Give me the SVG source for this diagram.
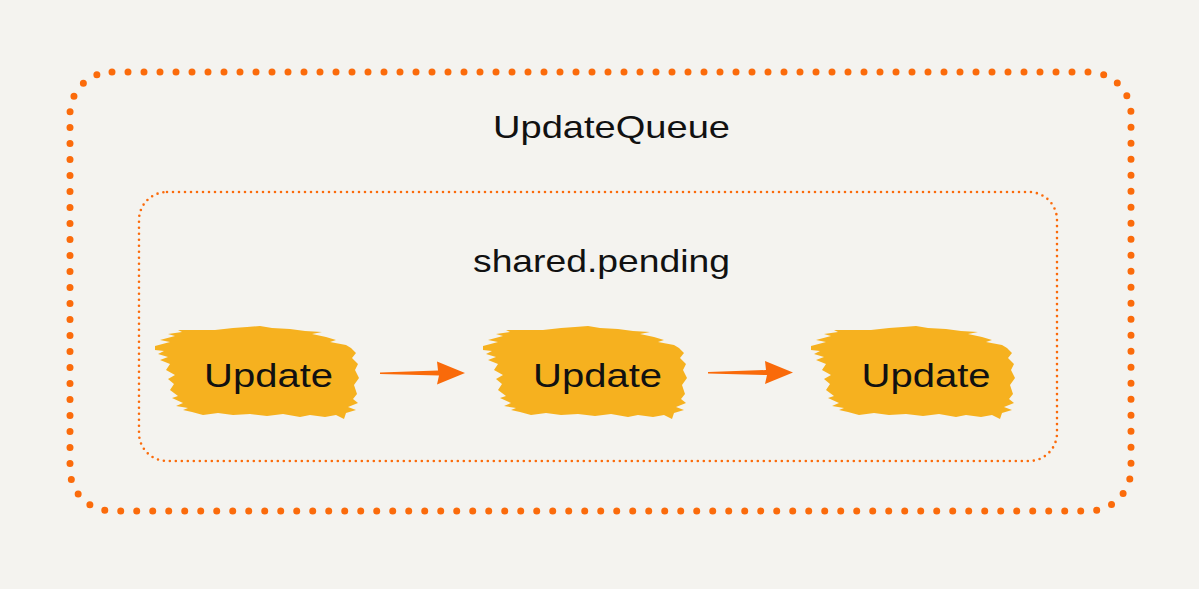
<svg xmlns="http://www.w3.org/2000/svg" width="1199" height="589" viewBox="0 0 1199 589">
  <style>
    .lbl { font-family: "Liberation Sans", Arial, sans-serif; fill: #111; text-anchor: middle; }
    .outer { fill: none; stroke: #fb6b0b; stroke-width: 7; stroke-linecap: round; stroke-dasharray: 0 16; }
    .inner { fill: none; stroke: #fb6b0b; stroke-width: 2.6; stroke-linecap: round; stroke-dasharray: 0 6; }
    .blob { fill: #f6b11f; }
    .arrow { fill: #f96a0a; }
  </style>
  <defs>
    <path id="blobShape" d="M155,346 L170,342 L160,340 L175,336 L168,334 L182,332 L178,330 L197,330 L215,330 L233,328 L247,327 L260,326 L272,328 L290,329 L305,331 L322,332 L312,334 L326,337 L336,340 L330,342 L346,345 L351,348 L356,353 L352,358 L358,364 L355,370 L359,378 L354,385 L357,394 L353,399 L358,403 L348,407 L356,410 L346,413 L344,419 L336,415 L325,417 L310,415 L300,417 L283,414 L267,416 L250,414 L233,415 L218,413 L203,415 L192,412 L183,410 L188,408 L176,406 L183,403 L172,398 L178,396 L170,390 L174,384 L168,379 L175,375 L166,370 L170,364 L160,360 L168,357 L158,354 L164,351 L155,350 Z"/>
    <path id="arrowShape" d="M0,-0.6 L58,-2.5 L57,-11.5 L85,0 L57,11.5 L59,2.6 L0,1 Z"/>
  </defs>
  <rect width="1199" height="589" fill="#f4f3ef"/>

  <g id="updateQueue">
    <rect class="outer" x="70" y="72" width="1061" height="439" rx="42" ry="42"/>
    <text class="lbl" x="611.5" y="138" font-size="32" textLength="237" lengthAdjust="spacingAndGlyphs">UpdateQueue</text>
  </g>

  <g id="sharedPending">
    <rect class="inner" x="139" y="192" width="918" height="269" rx="28" ry="28"/>
    <text class="lbl" x="601.5" y="272" font-size="32" textLength="257" lengthAdjust="spacingAndGlyphs">shared.pending</text>
  </g>

  <g id="update1">
    <use href="#blobShape" class="blob"/>
    <text class="lbl" x="268.5" y="387" font-size="34" textLength="129" lengthAdjust="spacingAndGlyphs">Update</text>
  </g>
  <g id="update2">
    <use href="#blobShape" class="blob" transform="translate(328,0)"/>
    <text class="lbl" x="597.5" y="387" font-size="34" textLength="129" lengthAdjust="spacingAndGlyphs">Update</text>
  </g>
  <g id="update3">
    <use href="#blobShape" class="blob" transform="translate(656,0)"/>
    <text class="lbl" x="926" y="387" font-size="34" textLength="129" lengthAdjust="spacingAndGlyphs">Update</text>
  </g>

  <g id="connectors">
    <use href="#arrowShape" class="arrow" transform="translate(380,373)"/>
    <use href="#arrowShape" class="arrow" transform="translate(708,372.5)"/>
  </g>
</svg>
